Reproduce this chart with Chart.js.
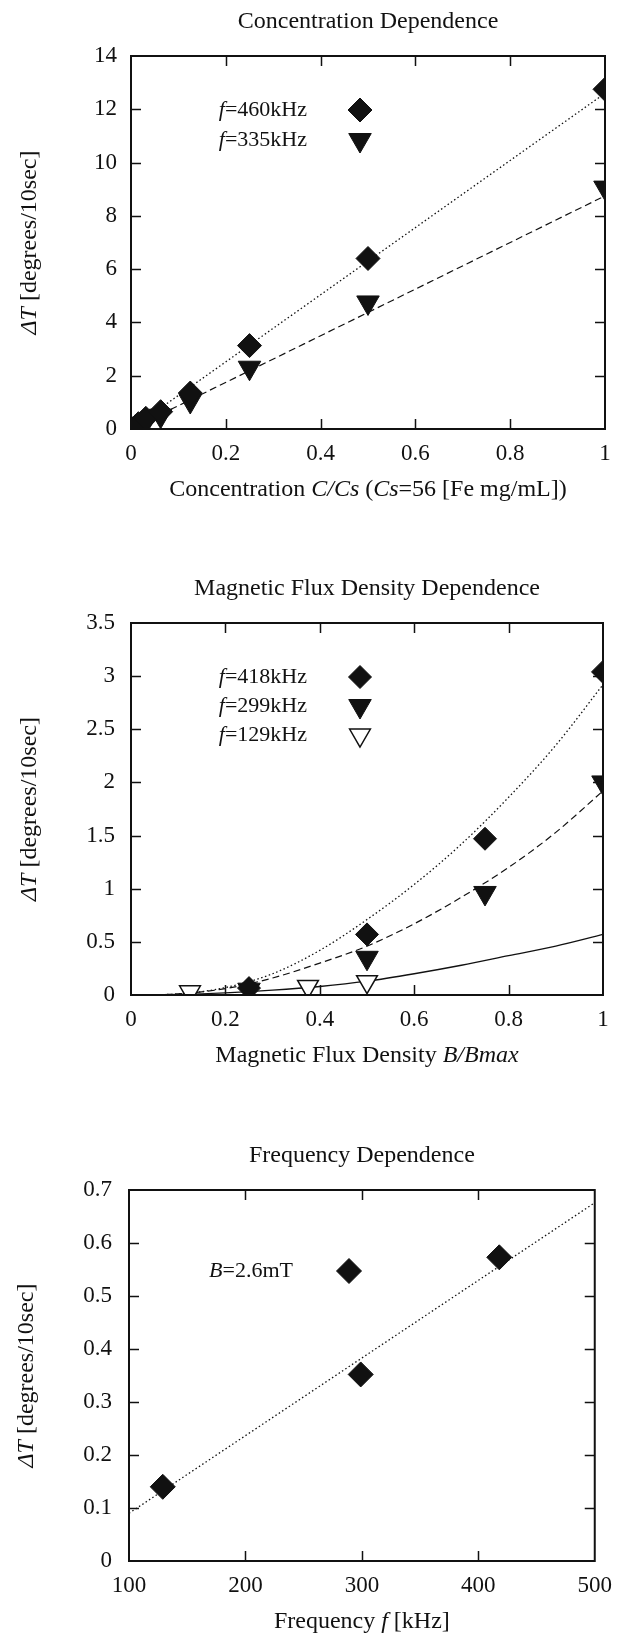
<!DOCTYPE html>
<html><head><meta charset="utf-8">
<script src="https://cdn.jsdelivr.net/npm/chart.js@4"></script>
<style>
html,body{margin:0;padding:0;background:#fff;}
body{width:623px;height:1640px;position:relative;overflow:hidden;}
canvas{position:absolute;left:0;}
</style></head><body>
<canvas id="c1" width="623" height="520" style="top:0px"></canvas>
<canvas id="c2" width="623" height="540" style="top:540px"></canvas>
<canvas id="c3" width="623" height="540" style="top:1100px"></canvas>
<script>
// ---------- Chart 1: Concentration Dependence ----------
const concX = [0, 0.015625, 0.03125, 0.0625, 0.125, 0.25, 0.5, 1];
const conc460 = [0.05, 0.2, 0.4, 0.65, 1.35, 3.13, 6.4, 12.75];
const conc335 = [0.0, 0.12, 0.27, 0.5, 1.05, 2.3, 4.75, 9.06];
const concFitX = [0, 1];
const concFit460 = [0, 12.6];
const concFit335 = [0, 8.75];
const concXTicks = [0, 0.2, 0.4, 0.6, 0.8, 1];
const concXLabels = ['0', '0.2', '0.4', '0.6', '0.8', '1'];
const concYTicks = [0, 2, 4, 6, 8, 10, 12, 14];
const concYLabels = ['0', '2', '4', '6', '8', '10', '12', '14'];

// ---------- Chart 2: Magnetic Flux Density Dependence ----------
const fluxX418 = [0.25, 0.5, 0.75, 1];
const flux418 = [0.065, 0.57, 1.47, 3.04];
const fluxX299 = [0.25, 0.5, 0.75, 1];
const flux299 = [0.05, 0.35, 0.96, 2.0];
const fluxX129 = [0.125, 0.375, 0.5];
const flux129 = [0.03, 0.08, 0.125];
const fluxFitX = [0, 0.1, 0.2, 0.3, 0.4, 0.5, 0.6, 0.7, 0.8, 0.9, 1];
const fluxFit418 = [0, 0.01, 0.07, 0.2, 0.42, 0.71, 1.04, 1.42, 1.86, 2.35, 2.92];
const fluxFit299 = [0, 0.01, 0.06, 0.16, 0.3, 0.46, 0.67, 0.92, 1.2, 1.53, 1.92];
const fluxFit129 = [0, 0.005, 0.02, 0.045, 0.08, 0.13, 0.2, 0.28, 0.37, 0.46, 0.57];
const fluxXTicks = [0, 0.2, 0.4, 0.6, 0.8, 1];
const fluxXLabels = ['0', '0.2', '0.4', '0.6', '0.8', '1'];
const fluxYTicks = [0, 0.5, 1, 1.5, 2, 2.5, 3, 3.5];
const fluxYLabels = ['0', '0.5', '1', '1.5', '2', '2.5', '3', '3.5'];

// ---------- Chart 3: Frequency Dependence ----------
const freqX = [129, 299, 418];
const freqY = [0.14, 0.352, 0.573];
const freqFitX = [100, 500];
const freqFitY = [0.09, 0.676];
const freqXTicks = [100, 200, 300, 400, 500];
const freqXLabels = ['100', '200', '300', '400', '500'];
const freqYTicks = [0, 0.1, 0.2, 0.3, 0.4, 0.5, 0.6, 0.7];
const freqYLabels = ['0', '0.1', '0.2', '0.3', '0.4', '0.5', '0.6', '0.7'];

// ---------- helpers ----------
const FONT = "'Liberation Serif','Times New Roman',serif";
const INK = '#111';
function pts(xs, ys) { return xs.map((x, i) => ({x: x, y: ys[i]})); }
function segFont(s, size) { return (s.i ? 'italic ' : '') + size + 'px ' + FONT; }
function richWidth(ctx, segs, size) {
  let w = 0;
  for (const s of segs) { ctx.font = segFont(s, size); w += ctx.measureText(s.t).width; }
  return w;
}
function drawRich(ctx, segs, x, y, size, align) {
  const w = richWidth(ctx, segs, size);
  let cx = align === 'center' ? x - w / 2 : (align === 'right' ? x - w : x);
  ctx.textBaseline = 'middle';
  ctx.textAlign = 'left';
  ctx.fillStyle = INK;
  for (const s of segs) {
    ctx.font = segFont(s, size);
    ctx.fillText(s.t, cx, y);
    cx += ctx.measureText(s.t).width;
  }
}

const framePlugin = {
  id: 'frame',
  afterDraw(chart, args, o) {
    const ctx = chart.ctx, a = chart.chartArea;
    const xs = chart.scales.x, ys = chart.scales.y;
    ctx.save();
    ctx.strokeStyle = INK;
    ctx.lineWidth = 2;
    ctx.strokeRect(a.left, a.top, a.right - a.left, a.bottom - a.top);
    const tl = 10;
    ctx.lineWidth = 1.5;
    ctx.beginPath();
    for (const v of o.xTicks) {
      const px = Math.round(xs.getPixelForValue(v)) + 0.5;
      if (px <= a.left + 2 || px >= a.right - 2) continue;
      ctx.moveTo(px, a.bottom); ctx.lineTo(px, a.bottom - tl);
      ctx.moveTo(px, a.top); ctx.lineTo(px, a.top + tl);
    }
    for (const v of o.yTicks) {
      const py = Math.round(ys.getPixelForValue(v)) + 0.5;
      if (py <= a.top + 2 || py >= a.bottom - 2) continue;
      ctx.moveTo(a.left, py); ctx.lineTo(a.left + tl, py);
      ctx.moveTo(a.right, py); ctx.lineTo(a.right - tl, py);
    }
    ctx.stroke();
    const cx = (a.left + a.right) / 2, cy = (a.top + a.bottom) / 2;
    drawRich(ctx, [{t: o.title}], cx, a.top - 34, 24, 'center');
    drawRich(ctx, o.xTitle, cx, a.bottom + 61, 24, 'center');
    ctx.save();
    ctx.translate(o.yTitleX, cy);
    ctx.rotate(-Math.PI / 2);
    drawRich(ctx, [{t: '\u0394T', i: true}, {t: ' [degrees/10sec]'}], 0, 0, 24, 'center');
    ctx.restore();
    for (const e of o.legend) {
      const y = a.top + e.dy;
      drawRich(ctx, e.segs, o.legendTextRight, y, 22, 'right');
      if (e.marker !== undefined) {
        const ds = chart.data.datasets[e.marker];
        ctx.fillStyle = ds.backgroundColor;
        ctx.strokeStyle = ds.borderColor;
        ctx.lineWidth = ds.borderWidth;
        Chart.helpers.drawPoint(ctx, {
          pointStyle: ds.pointStyle, rotation: ds.rotation || 0,
          radius: ds.pointRadius, borderWidth: ds.borderWidth
        }, o.legendKeyX, y);
      }
    }
    ctx.restore();
  }
};

function mkScales(xMin, xMax, xTicks, xLabels, yMin, yMax, yTicks, yLabels, yPad, yWidth) {
  const tickFont = {family: FONT, size: 23};
  return {
    x: {
      type: 'linear', position: 'bottom', min: xMin, max: xMax,
      grid: {display: false, drawTicks: false}, border: {display: false},
      afterBuildTicks: s => { s.ticks = xTicks.map(v => ({value: v})); },
      afterFit: s => { s.height = 50; },
      ticks: {callback: (v, i) => xLabels[i], font: tickFont, color: INK, padding: 11,
              maxRotation: 0, minRotation: 0, autoSkip: false}
    },
    y: {
      type: 'linear', position: 'left', min: yMin, max: yMax,
      grid: {display: false, drawTicks: false}, border: {display: false},
      afterBuildTicks: s => { s.ticks = yTicks.map(v => ({value: v})); },
      afterFit: s => { s.width = yWidth; },
      ticks: {callback: (v, i) => yLabels[i], font: tickFont, color: INK, padding: yPad,
              autoSkip: false}
    }
  };
}
function markerDS(data, style, radius, rotation, fill) {
  return {type: 'scatter', data: data, pointStyle: style, pointRadius: radius, pointHoverRadius: radius,
          rotation: rotation, backgroundColor: fill || INK, borderColor: INK, borderWidth: fill ? 1.5 : 1,
          showLine: false, order: 0};
}
function lineDS(data, dash, width) {
  return {type: 'scatter', data: data, showLine: true, pointRadius: 0, borderColor: INK,
          borderWidth: width || 1.2, borderDash: dash, cubicInterpolationMode: 'monotone',
          fill: false, order: 1};
}
function baseOptions(pad, scales, frame) {
  return {
    responsive: false, animation: false, devicePixelRatio: 1,
    layout: {padding: pad},
    scales: scales,
    plugins: {legend: {display: false}, tooltip: {enabled: false}, title: {display: false}, frame: frame},
    events: []
  };
}

// ---------- Chart 1 ----------
new Chart(document.getElementById('c1'), {
  type: 'scatter',
  data: {datasets: [
    markerDS(pts(concX, conc460), 'rectRot', 12, 0),
    markerDS(pts(concX, conc335), 'triangle', 13, 180),
    lineDS(pts(concFitX, concFit460), [1.5, 2.5], 1.3),
    lineDS(pts(concFitX, concFit335), [7, 4], 1.2)
  ]},
  options: baseOptions({left: 0, top: 56, right: 18, bottom: 41},
    mkScales(0, 1, concXTicks, concXLabels, 0, 14, concYTicks, concYLabels, 14, 131),
    {title: 'Concentration Dependence',
     xTitle: [{t: 'Concentration '}, {t: 'C/Cs', i: true}, {t: ' ('}, {t: 'Cs', i: true}, {t: '=56 [Fe mg/mL])'}],
     xTicks: concXTicks, yTicks: concYTicks, yTitleX: 30,
     legendTextRight: 307, legendKeyX: 360,
     legend: [{segs: [{t: 'f', i: true}, {t: '=460kHz'}], dy: 54, marker: 0},
              {segs: [{t: 'f', i: true}, {t: '=335kHz'}], dy: 84, marker: 1}]}),
  plugins: [framePlugin]
});

// ---------- Chart 2 ----------
new Chart(document.getElementById('c2'), {
  type: 'scatter',
  data: {datasets: [
    markerDS(pts(fluxX418, flux418), 'rectRot', 11.5, 0),
    markerDS(pts(fluxX299, flux299), 'triangle', 13, 180),
    markerDS(pts(fluxX129, flux129), 'triangle', 12, 180, '#fff'),
    lineDS(pts(fluxFitX, fluxFit418), [1.5, 2.5], 1.3),
    lineDS(pts(fluxFitX, fluxFit299), [7, 4], 1.2),
    lineDS(pts(fluxFitX, fluxFit129), [], 1.3)
  ]},
  options: baseOptions({left: 0, top: 83, right: 20, bottom: 35},
    mkScales(0, 1, fluxXTicks, fluxXLabels, 0, 3.5, fluxYTicks, fluxYLabels, 16, 131),
    {title: 'Magnetic Flux Density Dependence',
     xTitle: [{t: 'Magnetic Flux Density '}, {t: 'B/Bmax', i: true}],
     xTicks: fluxXTicks, yTicks: fluxYTicks, yTitleX: 30,
     legendTextRight: 307, legendKeyX: 360,
     legend: [{segs: [{t: 'f', i: true}, {t: '=418kHz'}], dy: 54, marker: 0},
              {segs: [{t: 'f', i: true}, {t: '=299kHz'}], dy: 83, marker: 1},
              {segs: [{t: 'f', i: true}, {t: '=129kHz'}], dy: 112, marker: 2}]}),
  plugins: [framePlugin]
});

// ---------- Chart 3 ----------
new Chart(document.getElementById('c3'), {
  type: 'scatter',
  data: {datasets: [
    markerDS(pts(freqX, freqY), 'rectRot', 12.5, 0),
    lineDS(pts(freqFitX, freqFitY), [1.5, 2.5], 1.3)
  ]},
  options: baseOptions({left: 0, top: 90, right: 22, bottom: 29},
    mkScales(100, 500, freqXTicks, freqXLabels, 0, 0.7, freqYTicks, freqYLabels, 17, 129),
    {title: 'Frequency Dependence',
     xTitle: [{t: 'Frequency '}, {t: 'f', i: true}, {t: ' [kHz]'}],
     xTicks: freqXTicks, yTicks: freqYTicks, yTitleX: 27,
     legendTextRight: 293, legendKeyX: 349,
     legend: [{segs: [{t: 'B', i: true}, {t: '=2.6mT'}], dy: 81, marker: 0}]}),
  plugins: [framePlugin]
});
</script>
</body></html>
